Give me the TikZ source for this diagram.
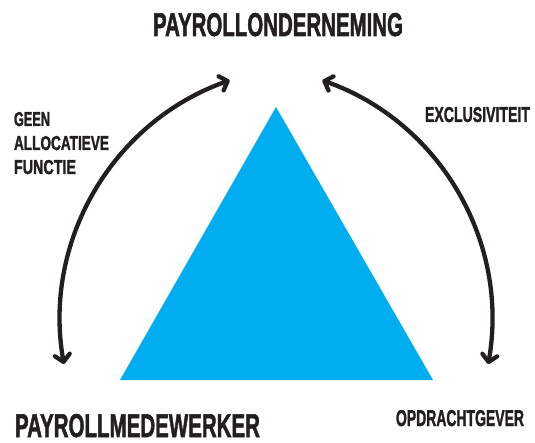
\documentclass[tikz,border=0pt]{standalone}
\usepackage{fontspec}
\setmainfont{Liberation Sans}
\newfontfamily\heavyfont[FakeBold=2]{Liberation Sans Bold}
\usepackage{graphicx}
\usetikzlibrary{arrows.meta}
\definecolor{ink}{HTML}{231F20}
\definecolor{cyanfill}{HTML}{00AEEF}
\newcommand{\condtxt}[3]{\resizebox{#1}{#2}{\heavyfont #3}}
\begin{document}
\begin{tikzpicture}[x=1pt,y=-1pt,
  lbl/.style={anchor=north west, inner sep=0pt, outer sep=0pt, text=ink},
  dblarc/.style={draw=ink, line width=4.3pt, line cap=round,
    {Straight Barb[length=7pt,width=15pt,round]}-{Straight Barb[length=7pt,width=15pt,round]}}]
\useasboundingbox (0,0) rectangle (535,443);
% triangle
\coordinate (apex) at (276,107);
\coordinate (bl) at (120,380);
\coordinate (br) at (433,380);
\fill[cyanfill] (apex) -- (br) -- (bl) -- cycle;
% labels
\node[lbl] (top) at (153,13) {\condtxt{250pt}{23pt}{PAYROLLONDERNEMING}};
\node[lbl] (bottomleft) at (15,414) {\condtxt{245pt}{23pt}{PAYROLLMEDEWERKER}};
\node[lbl] (bottomright) at (396,410) {\condtxt{128pt}{16pt}{OPDRACHTGEVER}};
\node[lbl] (excl) at (425,107) {\condtxt{105pt}{15pt}{EXCLUSIVITEIT}};
\node[lbl] (geen1) at (14,112) {\condtxt{36pt}{14pt}{GEEN}};
\node[lbl] (geen2) at (14,136) {\condtxt{95pt}{14pt}{ALLOCATIEVE}};
\node[lbl] (geen3) at (14,160) {\condtxt{62pt}{14pt}{FUNCTIE}};
% arcs
\coordinate (Lbot) at (63.9,364);
\coordinate (Rtop) at (322.4,80.4);
\draw[dblarc] (Lbot) arc[start angle=-190, end angle=-109.4, radius=254];
\draw[dblarc] (Rtop) arc[start angle=-70.6, end angle=10, radius=254];
\end{tikzpicture}
\end{document}
